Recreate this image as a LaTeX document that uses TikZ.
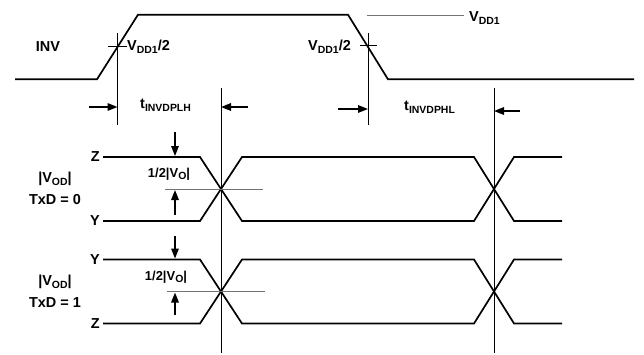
\documentclass[tikz,border=0pt]{standalone}
\usepackage{fontspec}
\setmainfont{Liberation Sans}
\usetikzlibrary{arrows.meta}
\newcommand{\sbs}[1]{\raisebox{-0.4ex}{\fontsize{10.5}{11}\selectfont #1}}
\begin{document}
\begin{tikzpicture}[x=1bp,y=-1bp,
  wave/.style={line width=1.7bp,line join=miter},
  refl/.style={line width=0.9bp},
  guide/.style={line width=0.9bp,draw=black!55},
  lbl/.style={font=\fontsize{14.5}{16}\selectfont\bfseries,inner sep=0pt},
  small/.style={font=\fontsize{13}{14}\selectfont\bfseries,inner sep=0pt},
  arr/.style={line width=1.6bp,-{Triangle[length=10bp,width=7.5bp]}}]
\useasboundingbox (0,0) rectangle (644,354);

% INV waveform
\draw[wave] (15,79.3) -- (97,79.3) -- (138,14.7) -- (348,14.7) -- (388,79.3) -- (634,79.3);
\node[lbl] (inv) at (48,47) {INV};

% reference verticals and ticks
\coordinate (r1t) at (117.5,33);  \coordinate (r1b) at (117.5,125);
\coordinate (r2t) at (368,33);    \coordinate (r2b) at (368,125);
\coordinate (r3t) at (221,88);    \coordinate (r3b) at (221,353);
\coordinate (r4t) at (494,88);    \coordinate (r4b) at (494,353);
\draw[refl] (r1t) -- (r1b);
\draw[refl] (r2t) -- (r2b);
\draw[refl] (r3t) -- (r3b);
\draw[refl] (r4t) -- (r4b);
\draw[refl] (108,46.5) -- (127,46.5);
\draw[refl] (360,45) -- (377,45);

\node[lbl,anchor=west] (vh1) at (127,47) {V\sbs{DD1}/2};
\node[lbl,anchor=east] (vh2) at (351,47) {V\sbs{DD1}/2};
\draw[guide] (367,15) -- (464,15);
\node[lbl,anchor=west] (vdd) at (469,18) {V\sbs{DD1}};

% propagation delay arrows
\node[lbl,anchor=west] (tplh) at (140,105) {t\sbs{INVDPLH}};
\node[lbl,anchor=west] (tphl) at (404,107) {t\sbs{INVDPHL}};
\coordinate (a1) at (89,107);  \coordinate (a1e) at (117.5,107);
\coordinate (a2) at (248,107); \coordinate (a2e) at (221,107);
\coordinate (a3) at (338,109); \coordinate (a3e) at (368,109);
\coordinate (a4) at (520,111); \coordinate (a4e) at (494,111);
\draw[arr] (a1) -- (a1e);
\draw[arr] (a2) -- (a2e);
\draw[arr] (a3) -- (a3e);
\draw[arr] (a4) -- (a4e);

% TxD = 0 block
\draw[wave] (103,157) -- (200,157) -- (242,221) -- (474,221) -- (514,157) -- (562,157);
\draw[wave] (103,221) -- (200,221) -- (242,157) -- (474,157) -- (514,221) -- (562,221);
\draw[guide] (165,189) -- (263,189);
\draw[arr] (175,132) -- (175,156);
\draw[arr] (175,215) -- (175,190);
\node[lbl,anchor=east] (z0) at (100,157) {Z};
\node[lbl,anchor=east] (y0) at (100,221) {Y};
\node[lbl] (vod0) at (55,179) {|V\sbs{OD}|};
\node[lbl] (txd0) at (55,200) {TxD = 0};
\node[small] (hv0) at (169,174) {1/2|V\sbs{O}|};

% TxD = 1 block
\draw[wave] (103,259.5) -- (200,259.5) -- (242,323.5) -- (474,323.5) -- (514,259.5) -- (562,259.5);
\draw[wave] (103,323.5) -- (200,323.5) -- (242,259.5) -- (474,259.5) -- (514,323.5) -- (562,323.5);
\draw[guide] (167,291.5) -- (265,291.5);
\draw[arr] (175,236) -- (175,258.5);
\draw[arr] (175,315) -- (175,292.5);
\node[lbl,anchor=east] (y1) at (100,259.5) {Y};
\node[lbl,anchor=east] (z1) at (100,323.5) {Z};
\node[lbl] (vod1) at (55,282) {|V\sbs{OD}|};
\node[lbl] (txd1) at (55,303) {TxD = 1};
\node[small] (hv1) at (166,277) {1/2|V\sbs{O}|};
\end{tikzpicture}
\end{document}
